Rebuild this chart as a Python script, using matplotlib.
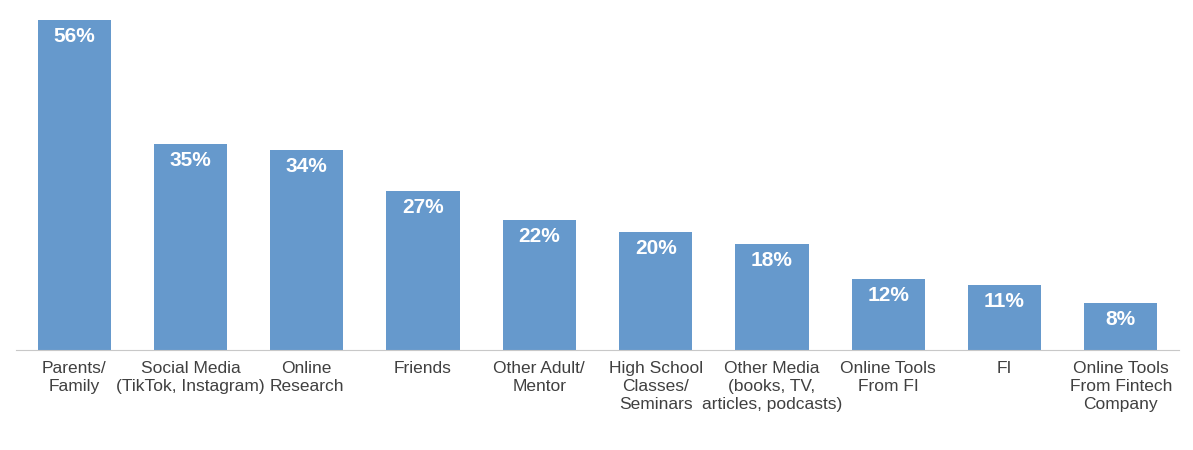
import matplotlib.pyplot as plt
from matplotlib import rcParams

rcParams['font.family'] = ['Liberation Sans Narrow', 'Liberation Sans', 'DejaVu Sans']

categories = ['Parents/\nFamily', 'Social Media\n(TikTok, Instagram)', 'Online\nResearch',
              'Friends', 'Other Adult/\nMentor', 'High School\nClasses/\nSeminars',
              'Other Media\n(books, TV,\narticles, podcasts)', 'Online Tools\nFrom FI', 'FI',
              'Online Tools\nFrom Fintech\nCompany']
values = [56, 35, 34, 27, 22, 20, 18, 12, 11, 8]

fig = plt.figure(figsize=(11.93, 4.5), dpi=100)
ax = fig.add_axes([16/1193, 100/450, 1163/1193, 330/450])
x = range(len(values))
ax.bar(x, values, width=0.63, color='#6699CC')
for i, v in zip(x, values):
    ax.text(i, v - 1.2, f'{v}%', ha='center', va='top', color='white',
            fontsize=15, fontweight='bold')

ax.set_xlim(-0.5, len(values) - 0.5)
ax.set_ylim(0, 56)
ax.set_xticks(list(x))
ax.set_xticklabels(categories, fontsize=12.5, color='#404040', linespacing=1.25)
ax.tick_params(axis='x', length=0, pad=8)
ax.set_yticks([])
for s in ['top', 'right', 'left']:
    ax.spines[s].set_visible(False)
ax.spines['bottom'].set_color('#c8c8c8')

fig.savefig('out.png', dpi=100)
